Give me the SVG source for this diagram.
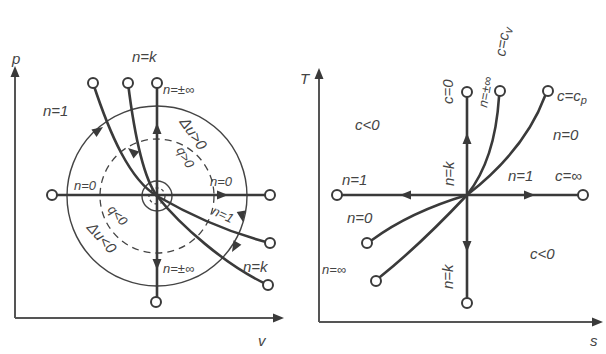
<svg xmlns="http://www.w3.org/2000/svg" xmlns:xlink="http://www.w3.org/1999/xlink" width="606" height="354" viewBox="0 0 606 354">
<style>
.ax{stroke:#555;stroke-width:2;fill:none}
.ln{stroke:#3a3a3a;stroke-width:2.6;fill:none;stroke-linecap:round}
.th{stroke:#444;stroke-width:1.4;fill:none}
.ds{stroke:#444;stroke-width:1.3;fill:none;stroke-dasharray:7 5}
.mk{fill:#fff;stroke:#3a3a3a;stroke-width:2}
.ah{fill:#3a3a3a}
.t{font-family:"Liberation Sans",Arial,sans-serif;font-style:italic;fill:#444;font-size:15px}
.s{font-size:13px}
</style>
<defs>
<path id="ah" d="M0,0 L-11,-4.5 L-11,4.5 Z"/>
</defs>
<rect width="606" height="354" fill="#fff"/>

<g id="pv-axes">
<path class="ax" d="M15,318 V72 M15,318 H278"/>
<use href="#ah" class="ah" transform="translate(15,66) rotate(-90)"/>
<use href="#ah" class="ah" transform="translate(284,318)"/>
<text class="t" x="12" y="64" font-size="17">p</text>
<text class="t" x="258" y="346" font-size="17">v</text>
</g>

<g id="pv-circles">
<circle class="th" cx="157" cy="196" r="90"/>
<circle class="ds" cx="157" cy="196" r="57"/>
<circle class="th" cx="157" cy="196" r="15"/>
<circle class="ds" cx="157" cy="196" r="8" style="stroke-dasharray:3 3"/>
</g>

<g id="connectors">
<path class="ln" d="M52,195 H270"/>
<path class="ln" d="M157,83 V302"/>
<path class="ln" d="M93,83 C110,135 130,180 157,196 C190,215 230,233 270,243"/>
<path class="ln" d="M128,83 C135,140 145,180 157,196 C180,225 225,265 268,285"/>
<use href="#ah" class="ah" transform="translate(228,195)"/>
<use href="#ah" class="ah" transform="translate(157,123) rotate(-90)"/>
<use href="#ah" class="ah" transform="translate(157,270) rotate(90)"/>
<use href="#ah" class="ah" transform="translate(103,127) rotate(-35)"/>
<use href="#ah" class="ah" transform="translate(128,148) rotate(-140)"/>
<use href="#ah" class="ah" transform="translate(243,222) rotate(80)"/>
<use href="#ah" class="ah" transform="translate(232,252) rotate(120)"/>

<path class="ax" d="M319,322 V74 M319,322 H596"/>
<use href="#ah" class="ah" transform="translate(319,68) rotate(-90)"/>
<use href="#ah" class="ah" transform="translate(603,322)"/>
<path class="ln" d="M337,195 H583"/>
<path class="ln" d="M467,92 V303"/>
<path class="ln" d="M467,195 Q495,160 499,97"/>
<path class="ln" d="M467,195 Q525,150 545,96"/>
<path class="ln" d="M467,195 Q410,212 372,240"/>
<path class="ln" d="M467,195 Q420,245 380,277"/>
<use href="#ah" class="ah" transform="translate(400,195) rotate(180)"/>
<use href="#ah" class="ah" transform="translate(535,195)"/>
<use href="#ah" class="ah" transform="translate(467,133) rotate(-90)"/>
<use href="#ah" class="ah" transform="translate(467,252) rotate(90)"/>
</g>

<g id="pv-markers">
<circle class="mk" cx="157" cy="83" r="5"/>
<circle class="mk" cx="156" cy="302" r="5"/>
<circle class="mk" cx="52" cy="195" r="5"/>
<circle class="mk" cx="270" cy="195" r="5"/>
<circle class="mk" cx="93" cy="83" r="5"/>
<circle class="mk" cx="128" cy="83" r="5"/>
<circle class="mk" cx="270" cy="243" r="5"/>
<circle class="mk" cx="268" cy="285" r="5"/>
</g>

<g id="pv-labels">
<text class="t" x="132" y="62" font-size="16">n=k</text>
<text class="t" x="43" y="116" font-size="16">n=1</text>
<text class="t s" x="163" y="94">n=±∞</text>
<text class="t s" x="74" y="190">n=0</text>
<text class="t s" x="210" y="186">n=0</text>
<text class="t" x="0" y="0" font-size="15" transform="translate(179,122) rotate(55)">Δu&gt;0</text>
<text class="t s" x="0" y="0" transform="translate(176,150) rotate(60)">q&gt;0</text>
<text class="t s" x="0" y="0" transform="translate(211,214) rotate(25)">n=1</text>
<text class="t" x="243" y="272" font-size="17">n=k</text>
<text class="t s" x="163" y="273">n=±∞</text>
<text class="t s" x="0" y="0" transform="translate(107,210) rotate(48)">q&lt;0</text>
<text class="t" x="0" y="0" font-size="15" transform="translate(86,228) rotate(48)">Δu&lt;0</text>
</g>

<g id="ts-axes-labels">
<text class="t" x="300" y="84" font-size="16">T</text>
<text class="t" x="590" y="346" font-size="17">s</text>
</g>

<g id="ts-markers">
<circle class="mk" cx="337" cy="195" r="5"/>
<circle class="mk" cx="583" cy="195" r="5"/>
<circle class="mk" cx="467" cy="92" r="5"/>
<circle class="mk" cx="467" cy="303" r="5"/>
<circle class="mk" cx="500" cy="91" r="5"/>
<circle class="mk" cx="548" cy="91" r="5"/>
<circle class="mk" cx="367" cy="243" r="5"/>
<circle class="mk" cx="376" cy="281" r="5"/>
</g>

<g id="ts-labels">
<text class="t" x="355" y="130" font-size="17">c&lt;0</text>
<text class="t" x="0" y="0" font-size="15" transform="translate(453,104) rotate(-90)">c=0</text>
<text class="t s" x="0" y="0" transform="translate(487,108) rotate(-80)">n=±∞</text>
<text class="t" x="0" y="0" font-size="16" transform="translate(505,57) rotate(-80)">c=c<tspan font-size="12" dy="3">v</tspan></text>
<text class="t" x="557" y="101" font-size="15">c=c<tspan font-size="11" dy="3">p</tspan></text>
<text class="t" x="553" y="140" font-size="16">n=0</text>
<text class="t" x="0" y="0" font-size="15" transform="translate(454,186) rotate(-90)">n=k</text>
<text class="t" x="508" y="181" font-size="15">n=1</text>
<text class="t" x="555" y="181" font-size="15">c=∞</text>
<text class="t" x="342" y="185" font-size="16">n=1</text>
<text class="t" x="347" y="223" font-size="16">n=0</text>
<text class="t s" x="322" y="274">n=∞</text>
<text class="t" x="0" y="0" font-size="15" transform="translate(453,289) rotate(-90)">n=k</text>
<text class="t" x="530" y="259" font-size="17">c&lt;0</text>
</g>
</svg>
